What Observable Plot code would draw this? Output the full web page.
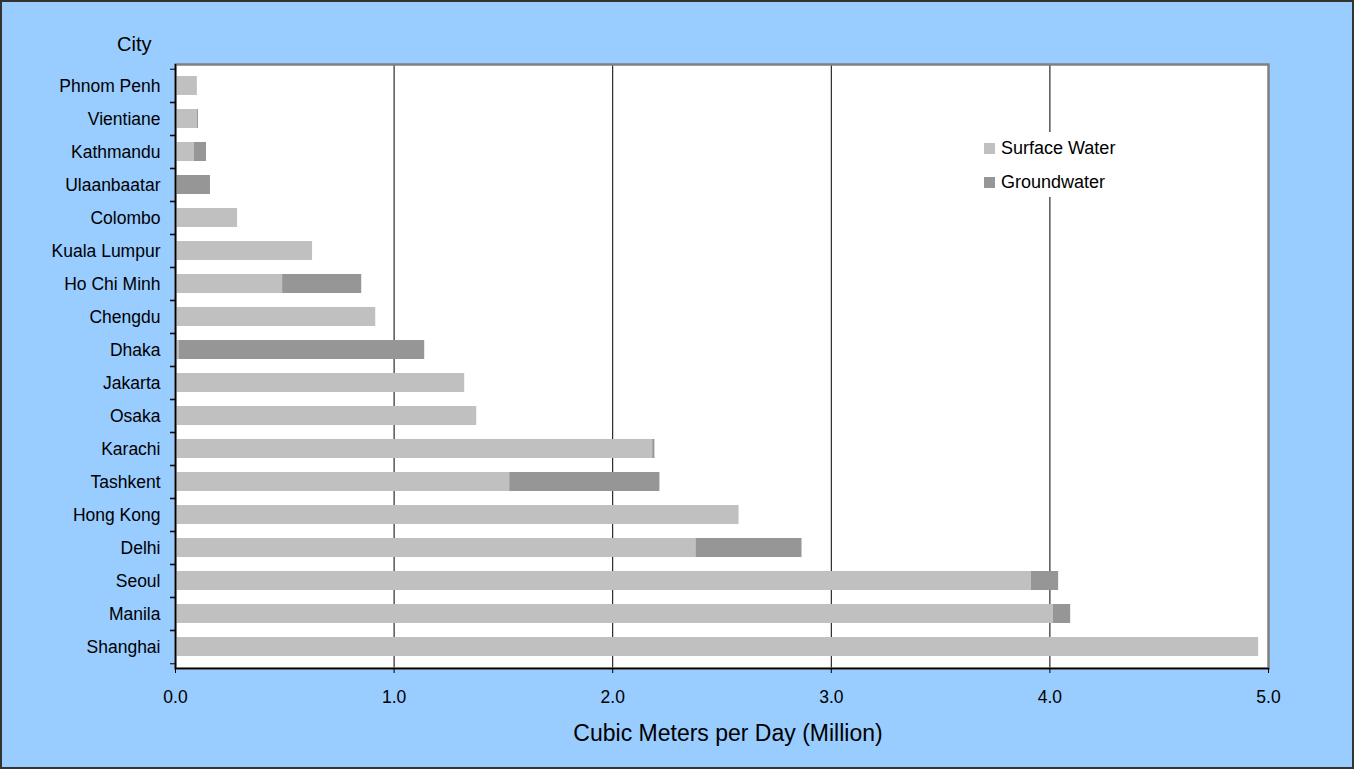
<!DOCTYPE html>
<html>
<head>
<meta charset="utf-8">
<script src="https://cdn.jsdelivr.net/npm/d3@7"></script>
<script src="https://cdn.jsdelivr.net/npm/@observablehq/plot@0.6"></script>
<style>
  html, body { margin: 0; padding: 0; background: white; }
  #wrap { position: relative; width: 1354px; height: 769px; }
  #legend { position: absolute; left: 975px; top: 132px; width: 150px; height: 65px; background: white;
            font-family: 'Liberation Sans', Arial, sans-serif; font-size: 18px; line-height: 18px; color: black; }
  #legend .sw { position: absolute; left: 9px; width: 11px; height: 11px; }
  #legend .lb { position: absolute; left: 26px; white-space: nowrap; }
</style>
</head>
<body>
<div id="wrap"><div id="chart"></div><div id="legend"></div></div>
<script>
const cities = ["Phnom Penh","Vientiane","Kathmandu","Ulaanbaatar","Colombo","Kuala Lumpur","Ho Chi Minh","Chengdu","Dhaka","Jakarta","Osaka","Karachi","Tashkent","Hong Kong","Delhi","Seoul","Manila","Shanghai"];
const surfaceWater = [0.10,0.10,0.087,0,0.284,0.627,0.49,0.916,0.016,1.323,1.378,2.183,1.529,2.578,2.381,3.915,4.015,4.955];
const groundwater  = [0,0.005,0.055,0.16,0,0,0.362,0,1.124,0,0,0.01,0.687,0,0.485,0.125,0.08,0];
const series = ["Surface Water","Groundwater"];
const seriesColors = ["#C0C0C0","#969696"];
const xTicks = [0,1,2,3,4,5];
const gridValues = [1,2,3,4];
const yTitle = "City";
const xTitle = "Cubic Meters per Day (Million)";

const rows = [];
cities.forEach((c,i) => rows.push({city:c, type:series[0], value:surfaceWater[i]}));
cities.forEach((c,i) => rows.push({city:c, type:series[1], value:groundwater[i]}));

const W = 1350, H = 765;
const mL = 173, mR = 84, mT = 62, mB = 99;
const step = (H - mT - mB) / cities.length;

const chart = Plot.plot({
  width: W, height: H,
  marginLeft: mL, marginRight: mR, marginTop: mT, marginBottom: mB,
  style: {background:"#99CCFF", border:"2px solid #333", fontFamily:"'Liberation Sans', Arial, sans-serif", maxWidth:"none", color:"black", display:"block"},
  x: {domain:[0,5], axis:null},
  y: {domain: cities, paddingInner:0.43, paddingOuter:0.215, axis:null},
  color: {domain: series, range: seriesColors},
  marks: [
    Plot.frame({fill:"white"}),
    Plot.ruleX(gridValues, {stroke:"black", strokeWidth:1}),
    Plot.barX(rows, {y:"city", x:"value", fill:"type"}),
    Plot.frame({stroke:"#808080", strokeWidth:2.5}),
    Plot.ruleX([0], {stroke:"black", strokeWidth:1.5}),
    Plot.frame({anchor:"bottom", stroke:"black", strokeWidth:1.5}),
    Plot.axisX(xTicks, {tickSize:5, tickPadding:17, tickFormat:d3.format(".1f"), fontSize:17.5, label:null, stroke:"black"}),
    Plot.axisY({tickSize:0, tickPadding:15, fontSize:17.5, label:null}),
    Plot.axisY({tickSize:5, text:null, dy:-step/2, label:null, stroke:"black"}),
    Plot.axisY({tickSize:5, text:null, dy:step/2, label:null, stroke:"black"}),
    Plot.text([yTitle], {text:d=>d, frameAnchor:"top-left", dx:-24, dy:-20, textAnchor:"end", lineAnchor:"middle", fontSize:20, fill:"black"}),
    Plot.text([xTitle], {text:d=>d, frameAnchor:"bottom", dx:6, dy:65, lineAnchor:"middle", fontSize:23, fill:"black"})
  ]
});
document.getElementById("chart").appendChild(chart);

const legend = document.getElementById("legend");
series.forEach((s, i) => {
  const sw = document.createElement("div");
  sw.className = "sw";
  sw.style.top = (10.5 + 34 * i) + "px";
  sw.style.background = seriesColors[i];
  const lb = document.createElement("div");
  lb.className = "lb";
  lb.style.top = (7.2 + 34 * i) + "px";
  lb.textContent = s;
  legend.appendChild(sw);
  legend.appendChild(lb);
});
</script>
</body>
</html>
